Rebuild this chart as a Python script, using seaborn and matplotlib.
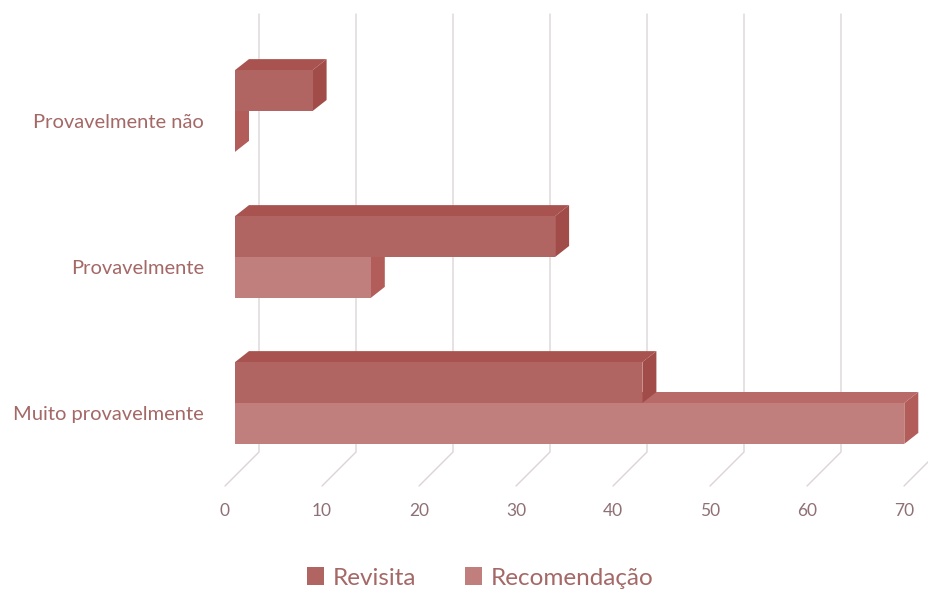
import matplotlib
matplotlib.use("Agg")
import matplotlib.pyplot as plt
import matplotlib.transforms as mtransforms
from matplotlib.patches import Polygon, Patch
from matplotlib.lines import Line2D
import pandas as pd
import seaborn as sns

# Survey answers and counts per question
categories = ["Provavelmente não", "Provavelmente", "Muito provavelmente"]
series = ["Revisita", "Recomendação"]
revisita = [8, 33, 42]
recomendacao = [0, 14, 69]
x_ticks = [0, 10, 20, 30, 40, 50, 60, 70]

front_colors = {"Revisita": "#B06563", "Recomendação": "#C07F7D"}
top_colors = {"Revisita": "#A85350", "Recomendação": "#B86A68"}
side_colors = {"Revisita": "#A24C4A", "Recomendação": "#B35D5B"}
grid_color = "#DCD4D6"
label_color = "#A46866"
tick_color = "#8E7076"

df = pd.DataFrame({
    "categoria": categories * 2,
    "serie": [series[0]] * 3 + [series[1]] * 3,
    "valor": revisita + recomendacao,
})

sns.set_theme(style="white")
plt.rcParams["font.family"] = ["Lato", "DejaVu Sans"]

fig = plt.figure(figsize=(9.29, 5.90), dpi=100)
ax = fig.add_axes([225 / 929, 104 / 590, 679 / 929, 438 / 590])

sns.barplot(data=df, x="valor", y="categoria", hue="serie", order=categories,
            hue_order=series, palette=front_colors, orient="h", width=0.56,
            dodge=True, errorbar=None, legend=False, ax=ax, linewidth=0,
            saturation=1)

ax.set_xlim(0, 70)
ax.set_ylim(2.5, -0.5)

# depth offsets in pixels: bar front, bar back, back wall
front_off = (10, 10)
back_off = (24, 21)
wall_off = (34, 34)
T_front = mtransforms.offset_copy(ax.transData, fig=fig, x=front_off[0], y=front_off[1], units="dots")
T_back = mtransforms.offset_copy(ax.transData, fig=fig, x=back_off[0], y=back_off[1], units="dots")
T_wall = mtransforms.offset_copy(ax.transData, fig=fig, x=wall_off[0], y=wall_off[1], units="dots")

# back wall gridlines and floor lines
y_floor, y_ceiling = 2.5, -0.5
for t in x_ticks:
    p_top = T_wall.transform((t, y_ceiling))
    p_bot = T_wall.transform((t, y_floor))
    p_front = ax.transData.transform((t, y_floor))
    ax.add_line(Line2D([p_top[0], p_bot[0], p_front[0]], [p_top[1], p_bot[1], p_front[1]],
                       transform=None, color=grid_color, lw=1.0, zorder=0.5, clip_on=False))

# give each bar a depth: shift the front face, add top and side faces
bars = list(ax.patches)
n_cat = len(categories)
faces = []
for i, patch in enumerate(bars):
    s_name = series[i // n_cat]
    x0, y0 = patch.get_x(), patch.get_y()
    w, h = patch.get_width(), patch.get_height()
    y_up, y_dn = y0, y0 + h  # smaller y is drawn higher (inverted axis)
    x1 = x0 + w
    fA = T_front.transform([(x0, y_up), (x1, y_up), (x1, y_dn), (x0, y_dn)])
    bA = T_back.transform([(x0, y_up), (x1, y_up), (x1, y_dn), (x0, y_dn)])
    top = [fA[0], fA[1], bA[1], bA[0]]
    side = [fA[1], fA[2], bA[2], bA[1]]
    front = fA
    order = 1 if s_name == "Recomendação" else 2
    faces.append((order, s_name, top, side, front, patch))

for order, s_name, top, side, front, patch in sorted(faces, key=lambda f: f[0]):
    z = 1 + order
    patch.set_visible(False)
    ax.add_patch(Polygon(top, closed=True, transform=None, facecolor=top_colors[s_name],
                         edgecolor="none", zorder=z, clip_on=False))
    ax.add_patch(Polygon(side, closed=True, transform=None, facecolor=side_colors[s_name],
                         edgecolor="none", zorder=z, clip_on=False))
    ax.add_patch(Polygon(front, closed=True, transform=None, facecolor=front_colors[s_name],
                         edgecolor="none", zorder=z + 0.1, clip_on=False))

for s in ax.spines.values():
    s.set_visible(False)
ax.set_xticks(x_ticks)
ax.set_xticklabels([str(t) for t in x_ticks])
ax.tick_params(axis="x", length=0, pad=12, labelsize=12.5, labelcolor=tick_color)
ax.tick_params(axis="y", length=0, pad=15, labelsize=14.5, labelcolor=label_color)
for lbl in ax.get_yticklabels():
    lbl.set_y(lbl.get_position()[1])
ax.set_xlabel("")
ax.set_ylabel("")
ax.grid(False)

handles = [Patch(facecolor=front_colors[s], edgecolor="none", label=s) for s in series]
leg = fig.legend(handles=handles, loc="center", bbox_to_anchor=(0.517, 1 - 578 / 590),
                 ncol=2, frameon=False, fontsize=17.5, handlelength=0.7, handleheight=0.7,
                 handletextpad=0.35, columnspacing=2.0)
for txt in leg.get_texts():
    txt.set_color(label_color)

fig.savefig("out.png", dpi=100)
